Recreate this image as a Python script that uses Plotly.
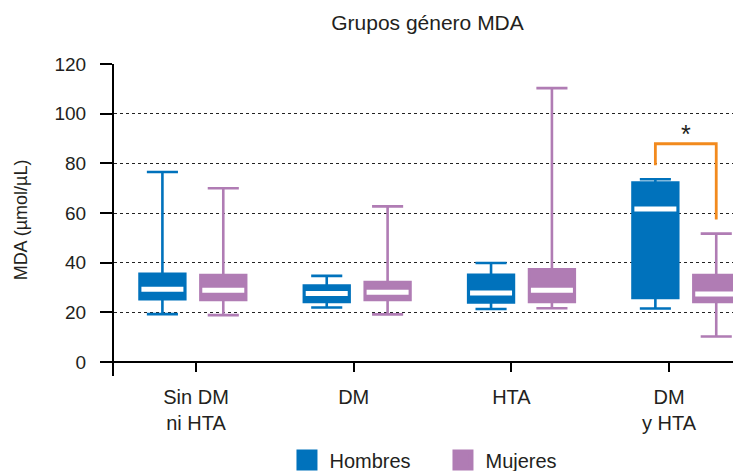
import plotly.graph_objects as go

# ---------------- data ----------------
categories = ["Sin DM<br>ni HTA", "DM", "HTA", "DM<br>y HTA"]
series_names = ["Hombres", "Mujeres"]

hombres_low = [19.3, 22.0, 21.4, 21.6]
hombres_q1 = [25.3, 24.2, 24.0, 25.8]
hombres_med = [29.3, 27.6, 27.8, 61.6]
hombres_q3 = [35.5, 30.8, 35.1, 72.3]
hombres_high = [76.5, 34.7, 39.9, 73.6]

mujeres_low = [18.9, 19.2, 21.7, 10.3]
mujeres_q1 = [25.0, 25.0, 24.2, 24.2]
mujeres_med = [28.9, 28.1, 28.9, 27.4]
mujeres_q3 = [35.0, 32.2, 37.4, 35.0]
mujeres_high = [70.0, 62.7, 110.3, 51.7]

# significance bracket (group "DM y HTA"): left leg end, bar level, right leg end
sig_group = 3
sig_levels = [79.2, 87.9, 87.9, 57.4]
sig_label = "*"

y_ticks = [0, 20, 40, 60, 80, 100, 120]

# ---------------- style / layout ----------------
BLUE = "#0072BC"
PURPLE = "#B07CB4"
ORANGE = "#F28A1E"
TEXT = "#231F20"
FONT = "Liberation Sans, Arial, sans-serif"

GROUP_SPREAD = 1.042
GROUP_SHIFT = -0.02
OFFSET = 0.193
BOX_W = 0.29

Y_MIN, Y_MAX = -5.6, 120
X_MIN, X_MAX = -0.52, 3.456

# page body has an 8px margin; size the figure so it fits the window
W, H = 733, 463
ML, MT, MB = 106, 56, 95

idx = list(range(len(categories)))
centers = [GROUP_SHIFT + GROUP_SPREAD * i for i in idx]
x_h = [c - OFFSET for c in centers]
x_m = [c + OFFSET for c in centers]

fig = go.Figure()

for name, xs, low, q1, med, q3, high, col in [
    ("Hombres", x_h, hombres_low, hombres_q1, hombres_med, hombres_q3, hombres_high, BLUE),
    ("Mujeres", x_m, mujeres_low, mujeres_q1, mujeres_med, mujeres_q3, mujeres_high, PURPLE),
]:
    fig.add_trace(go.Box(
        x=xs, lowerfence=low, q1=q1, median=med, q3=q3, upperfence=high,
        width=BOX_W, whiskerwidth=0.68,
        fillcolor=col, line=dict(color=col, width=2.6),
        name=name, showlegend=False, hoverinfo="skip",
    ))
    # white median band
    fig.add_trace(go.Scatter(
        x=xs, y=med, mode="markers",
        marker=dict(symbol="line-ew", size=30, line=dict(color="white", width=5)),
        showlegend=False, hoverinfo="skip",
    ))
    # legend entry
    fig.add_trace(go.Scatter(
        x=[None], y=[None], mode="markers", name=name,
        marker=dict(symbol="square", size=16, color=col, line=dict(color=col, width=5)),
    ))

# significance bracket
bx = [x_h[sig_group], x_h[sig_group], x_m[sig_group], x_m[sig_group]]
fig.add_trace(go.Scatter(
    x=bx, y=sig_levels, mode="lines",
    line=dict(color=ORANGE, width=2.8),
    showlegend=False, hoverinfo="skip",
))
fig.add_annotation(
    x=centers[sig_group], y=sig_levels[1], text=sig_label, showarrow=False,
    yanchor="bottom", yshift=-6, font=dict(size=25, color=TEXT, family=FONT),
)

x_pos = (0 - Y_MIN) / (Y_MAX - Y_MIN)
plot_h = H - MT - MB

fig.update_layout(
    width=W, height=H,
    margin=dict(l=ML, r=0, t=MT, b=MB, pad=0, autoexpand=False),
    paper_bgcolor="white", plot_bgcolor="white",
    font=dict(family=FONT, color=TEXT, size=19),
    title=dict(text="Grupos género MDA", x=0.5, xref="paper", xanchor="center",
               y=1 - 15 / H, yanchor="middle", font=dict(size=21, color=TEXT)),
    showlegend=True,
    legend=dict(orientation="h", x=0.5207, xanchor="center",
                y=-(452 - (H - MB)) / plot_h, yanchor="middle",
                itemwidth=35, entrywidth=106,
                font=dict(size=20, color=TEXT), bgcolor="rgba(0,0,0,0)"),
    xaxis=dict(
        range=[X_MIN, X_MAX], tickmode="array", tickvals=idx, ticktext=categories,
        anchor="free", position=x_pos, automargin=False,
        showline=True, linecolor="black", linewidth=2,
        ticks="outside", ticklen=9, tickwidth=2, tickcolor="black",
        ticklabelstandoff=8,
        showgrid=False, zeroline=False, tickfont=dict(size=20, color=TEXT),
    ),
    yaxis=dict(
        range=[Y_MIN, Y_MAX], tickmode="array", tickvals=y_ticks, automargin=False,
        showline=True, linecolor="black", linewidth=2,
        ticks="outside", ticklen=12, tickwidth=2, tickcolor="black",
        showgrid=True, gridcolor="#222", gridwidth=1.3, griddash="3px,3px",
        zeroline=False, tickfont=dict(size=19, color=TEXT), ticklabelstandoff=10,
        title=dict(text="MDA (µmol/µL)", font=dict(size=18, color=TEXT), standoff=22),
    ),
)

fig.write_html("out.html")
